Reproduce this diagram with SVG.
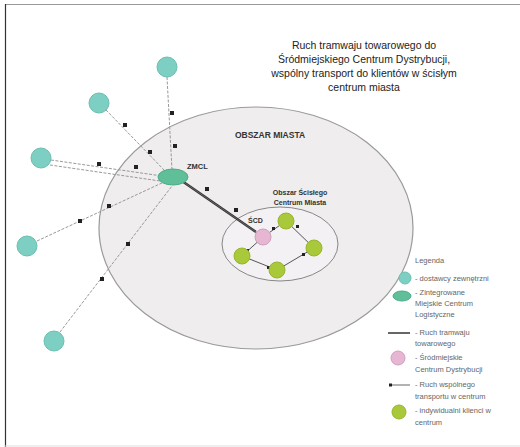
<svg xmlns="http://www.w3.org/2000/svg" width="520" height="447" viewBox="0 0 520 447">
<style>
text{font-family:"Liberation Sans",Arial,sans-serif;fill:#444}
.t{font-size:10.5px;text-anchor:middle;fill:#222}
.lg{font-size:7.5px;fill:#666}
.sup{fill:#7ccfc2;stroke:#6bbfb0;stroke-width:1}
.cli{fill:#a9c83a;stroke:#97b52d;stroke-width:1}
.flow{stroke:#999;stroke-width:1;fill:none;stroke-dasharray:3 1.5}
.cen{stroke:#555;stroke-width:1;fill:none}
.mk{fill:#222}
</style>
<rect x="0" y="0" width="520" height="447" fill="#fff"/>
<line x1="5" y1="4.5" x2="520" y2="4.5" stroke="#999" stroke-width="1"/>
<line x1="5.5" y1="4" x2="5.5" y2="447" stroke="#333" stroke-width="1.2"/>
<line x1="5" y1="446" x2="520" y2="446" stroke="#ddd" stroke-width="1"/>

<g id="title">
<text class="t" x="364" y="49">Ruch tramwaju towarowego do</text>
<text class="t" x="364" y="63">Śródmiejskiego Centrum Dystrybucji,</text>
<text class="t" x="364" y="77">wspólny transport do klientów w ścisłym</text>
<text class="t" x="364" y="91">centrum miasta</text>
</g>

<g id="obszar-miasta">
<ellipse cx="256" cy="228" rx="157" ry="121" fill="#efeded" stroke="#9a9a9a" stroke-width="1.2"/>
<text x="270" y="138" style="font-size:8.5px;font-weight:bold;text-anchor:middle;fill:#333">OBSZAR MIASTA</text>
</g>

<g id="obszar-centrum">
<ellipse cx="280" cy="244" rx="58" ry="37" fill="#f3f1f3" stroke="#888" stroke-width="1"/>
<text x="300" y="195" style="font-size:7px;font-weight:bold;text-anchor:middle;fill:#333">Obszar Ścisłego</text>
<text x="300" y="205" style="font-size:7px;font-weight:bold;text-anchor:middle;fill:#333">Centrum Miasta</text>
</g>

<g id="connectors">
<line class="flow" x1="167" y1="77" x2="172" y2="170"/>
<line class="flow" x1="106" y1="110" x2="166" y2="172"/>
<line class="flow" x1="51" y1="160" x2="162" y2="176"/>
<line class="flow" x1="50" y1="165" x2="160" y2="181"/>
<line class="flow" x1="37" y1="241" x2="164" y2="182"/>
<line class="flow" x1="60" y1="332" x2="172" y2="186"/>
<rect class="mk" x="170" y="111" width="4" height="4"/>
<rect class="mk" x="173" y="144" width="4" height="4"/>
<rect class="mk" x="123" y="123" width="4" height="4"/>
<rect class="mk" x="148" y="150" width="4" height="4"/>
<rect class="mk" x="97" y="162" width="4" height="4"/>
<rect class="mk" x="134" y="165" width="4" height="4"/>
<rect class="mk" x="78" y="219" width="4" height="4"/>
<rect class="mk" x="107" y="204" width="4" height="4"/>
<rect class="mk" x="100" y="277" width="4" height="4"/>
<rect class="mk" x="126" y="242" width="4" height="4"/>
<line x1="182" y1="181" x2="256" y2="232" stroke="#333" stroke-width="2.5"/>
<line x1="182" y1="181" x2="256" y2="232" stroke="#888" stroke-width="0.6"/>
<rect class="mk" x="205" y="187" width="4" height="4"/>
<rect class="mk" x="234" y="208" width="4" height="4"/>
<line class="cen" x1="263" y1="237" x2="286" y2="221"/>
<line class="cen" x1="286" y1="221" x2="314" y2="248"/>
<line class="cen" x1="314" y1="248" x2="277" y2="270"/>
<line class="cen" x1="277" y1="270" x2="242" y2="256"/>
<line class="cen" x1="242" y1="256" x2="263" y2="237"/>
<rect class="mk" x="272" y="227" width="3" height="3"/>
<rect class="mk" x="296" y="225" width="3" height="3"/>
<rect class="mk" x="302" y="253" width="3" height="3"/>
<rect class="mk" x="267" y="266" width="3" height="3"/>
<rect class="mk" x="246" y="249" width="3" height="3"/>
</g>

<g id="dostawca-1"><circle class="sup" cx="167" cy="67" r="10"/></g>
<g id="dostawca-2"><circle class="sup" cx="99" cy="103" r="10"/></g>
<g id="dostawca-3"><circle class="sup" cx="41" cy="158" r="10"/></g>
<g id="dostawca-4"><circle class="sup" cx="27" cy="246" r="10"/></g>
<g id="dostawca-5"><circle class="sup" cx="54" cy="341" r="10"/></g>

<g id="zmcl">
<ellipse cx="173" cy="177" rx="15" ry="8" fill="#5fbf98" stroke="#4faa86" stroke-width="1"/>
<text x="187" y="169" style="font-size:7.5px;font-weight:bold;fill:#333">ZMCL</text>
</g>

<g id="scd">
<circle cx="263" cy="237" r="8" fill="#e6b6d2" stroke="#cfa0bd" stroke-width="1"/>
<text x="248" y="223" style="font-size:7px;font-weight:bold;fill:#333">ŚCD</text>
</g>

<g id="klient-1"><circle class="cli" cx="286" cy="221" r="8"/></g>
<g id="klient-2"><circle class="cli" cx="314" cy="248" r="8"/></g>
<g id="klient-3"><circle class="cli" cx="277" cy="270" r="8"/></g>
<g id="klient-4"><circle class="cli" cx="242" cy="256" r="8"/></g>

<g id="legend">
<text class="lg" x="415" y="263">Legenda</text>
<circle class="sup" cx="405" cy="278" r="6"/>
<text class="lg" x="415" y="281">- dostawcy zewnętrzni</text>
<ellipse cx="402" cy="296" rx="9" ry="5" fill="#5fbf98" stroke="#4faa86" stroke-width="1"/>
<text class="lg" x="415" y="295">- Zintegrowane</text>
<text class="lg" x="415" y="306">Miejskie Centrum</text>
<text class="lg" x="415" y="317">Logistyczne</text>
<line x1="388" y1="333" x2="410" y2="333" stroke="#333" stroke-width="1.5"/>
<text class="lg" x="415" y="335">- Ruch tramwaju</text>
<text class="lg" x="415" y="346">towarowego</text>
<circle cx="398" cy="358" r="7" fill="#e6b6d2" stroke="#cfa0bd" stroke-width="1"/>
<text class="lg" x="415" y="360">- Śródmiejskie</text>
<text class="lg" x="415" y="372">Centrum Dystrybucji</text>
<line x1="390" y1="385" x2="410" y2="385" stroke="#666" stroke-width="1"/>
<rect class="mk" x="389" y="383.5" width="3" height="3"/>
<text class="lg" x="415" y="387">- Ruch wspólnego</text>
<text class="lg" x="415" y="399">transportu w centrum</text>
<circle class="cli" cx="399" cy="412" r="7"/>
<text class="lg" x="415" y="413">- indywidualni klienci w</text>
<text class="lg" x="415" y="425">centrum</text>
</g>
</svg>
